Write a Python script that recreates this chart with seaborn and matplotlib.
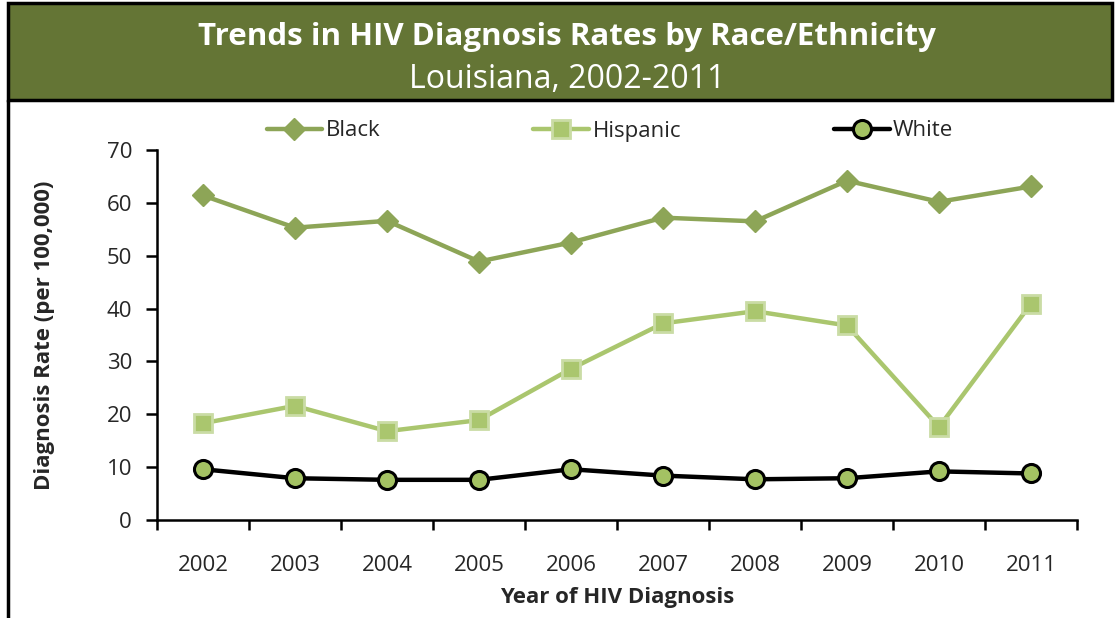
import matplotlib
matplotlib.use("Agg")
import matplotlib.pyplot as plt
from matplotlib.patches import Rectangle
from matplotlib.lines import Line2D
import seaborn as sns
import pandas as pd
import numpy as np

years = [2002, 2003, 2004, 2005, 2006, 2007, 2008, 2009, 2010, 2011]
black = [61.4, 55.3, 56.6, 48.9, 52.5, 57.2, 56.5, 64.2, 60.2, 63.1]
hispanic = [18.3, 21.6, 16.8, 18.9, 28.6, 37.2, 39.5, 36.8, 17.6, 40.9]
white = [9.6, 7.9, 7.6, 7.6, 9.6, 8.4, 7.7, 7.9, 9.2, 8.8]
series_names = ["Black", "Hispanic", "White"]

sns.set_theme(style="white")
plt.rcParams['font.family'] = ['Open Sans', 'DejaVu Sans']

df = pd.DataFrame({
    "Year": years * 3,
    "Rate": black + hispanic + white,
    "Group": ["Black"] * 10 + ["Hispanic"] * 10 + ["White"] * 10,
})
df["pos"] = df["Year"] - years[0]

fig = plt.figure(figsize=(11.15, 6.18), dpi=100)
ax = fig.add_axes([157/1115, 1 - 520/618, (1077-157)/1115, (520-150)/618])

styles = {
    "Black": dict(color="#8DA557", marker="D", ms=11, mfc="#8DA557", mec="#8DA557", mew=1),
    "Hispanic": dict(color="#AAC66E", marker="s", ms=13, mfc="#AAC66E", mec="#CADCA5", mew=2),
    "White": dict(color="#000000", marker="o", ms=13, mfc="#A4C263", mec="#000000", mew=2.2),
}
for g in series_names:
    st = styles[g]
    sub = df[df["Group"] == g]
    sns.lineplot(data=sub, x="pos", y="Rate", ax=ax, color=st["color"], lw=3.2,
                 marker=st["marker"], markersize=st["ms"], markerfacecolor=st["mfc"],
                 markeredgecolor=st["mec"], markeredgewidth=st["mew"], legend=False,
                 zorder=3)

ax.set_xlim(-0.5, 9.5)
ax.set_ylim(0, 70)
ax.set_xticks(range(10))
ax.set_xticklabels([str(y) for y in years], fontsize=16)
ax.set_xticks(np.arange(-0.5, 10, 1), minor=True)
ax.tick_params(axis="x", which="major", length=0, pad=25)
ax.tick_params(axis="x", which="minor", length=7, width=1.8, direction="out", color="black")
ax.set_yticks(range(0, 71, 10))
ax.tick_params(axis="y", length=8, width=1.8, direction="out", labelsize=16, pad=10, color="black")
ax.xaxis.set_ticks_position("bottom")
ax.yaxis.set_ticks_position("left")
for s in ["top", "right"]:
    ax.spines[s].set_visible(False)
for s in ["left", "bottom"]:
    ax.spines[s].set_color("black")
    ax.spines[s].set_linewidth(1.8)
ax.set_xlabel("Year of HIV Diagnosis", fontsize=16, fontweight="bold", va="center")
ax.xaxis.set_label_coords(0.5, (520 - 597) / 370)
ax.set_ylabel("Diagnosis Rate (per 100,000)", fontsize=16, fontweight="bold", va="center")
ax.yaxis.set_label_coords((45 - 157) / 920, 0.5)
ax.grid(False)

handles = []
for g in series_names:
    st = styles[g]
    handles.append(Line2D([], [], color=st["color"], lw=3.2, marker=st["marker"],
                          markersize=st["ms"], markerfacecolor=st["mfc"],
                          markeredgecolor=st["mec"], markeredgewidth=st["mew"]))
fig.legend(handles, series_names, loc="center", bbox_to_anchor=(610/1115, 1 - 131/618),
           ncol=3, frameon=False, fontsize=16, columnspacing=6.9, handlelength=2.5,
           handletextpad=0.15)

# banner
fig.patches.append(Rectangle((8/1115, 1 - 100/618), (1112-8)/1115, 97/618,
                             transform=fig.transFigure, facecolor="#647535",
                             edgecolor="black", lw=2.5, zorder=0))
fig.add_artist(Line2D([8/1115, 8/1115], [0, 1 - 100/618], transform=fig.transFigure,
                      color="black", lw=2.5))
fig.text(567/1115, 1 - 37/618, "Trends in HIV Diagnosis Rates by Race/Ethnicity",
         ha="center", va="center", color="white", fontsize=22.5, fontweight="bold")
fig.text(567/1115, 1 - 79/618, "Louisiana, 2002-2011", ha="center", va="center",
         color="white", fontsize=23)

fig.savefig("out.png", dpi=100)
